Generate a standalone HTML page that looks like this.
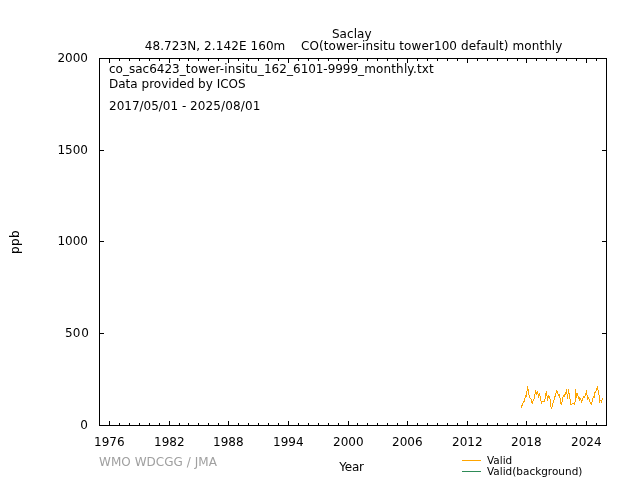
<!DOCTYPE html>
<html lang="en">
<head>
<meta charset="utf-8">
<title>Saclay CO monthly</title>
<style>
html,body{margin:0;padding:0;background:#fff;}
body{width:640px;height:480px;position:relative;overflow:hidden;font-family:"DejaVu Sans","Liberation Sans",sans-serif;font-size:12px;line-height:14px;color:#000;}
.r{position:absolute;}
.t{position:absolute;white-space:nowrap;height:14px;}
.tl{transform:translate(0,-50%);}
.tc{transform:translate(-50%,-50%);}
.tr{transform:translate(-100%,-50%);}
svg{position:absolute;left:0;top:0;}
</style>
</head>
<body>
<div class="r" style="left:99px;top:58px;width:508px;height:1px;background:#000"></div>
<div class="r" style="left:99px;top:425px;width:508px;height:1px;background:#000"></div>
<div class="r" style="left:99px;top:58px;width:1px;height:368px;background:#000"></div>
<div class="r" style="left:606px;top:58px;width:1px;height:368px;background:#000"></div>
<div class="r" style="left:109px;top:59px;width:1px;height:4px;background:#000"></div>
<div class="r" style="left:109px;top:421px;width:1px;height:4px;background:#000"></div>
<div class="r" style="left:119px;top:59px;width:1px;height:2px;background:#000"></div>
<div class="r" style="left:119px;top:423px;width:1px;height:2px;background:#000"></div>
<div class="r" style="left:129px;top:59px;width:1px;height:2px;background:#000"></div>
<div class="r" style="left:129px;top:423px;width:1px;height:2px;background:#000"></div>
<div class="r" style="left:139px;top:59px;width:1px;height:2px;background:#000"></div>
<div class="r" style="left:139px;top:423px;width:1px;height:2px;background:#000"></div>
<div class="r" style="left:149px;top:59px;width:1px;height:2px;background:#000"></div>
<div class="r" style="left:149px;top:423px;width:1px;height:2px;background:#000"></div>
<div class="r" style="left:159px;top:59px;width:1px;height:2px;background:#000"></div>
<div class="r" style="left:159px;top:423px;width:1px;height:2px;background:#000"></div>
<div class="r" style="left:169px;top:59px;width:1px;height:4px;background:#000"></div>
<div class="r" style="left:169px;top:421px;width:1px;height:4px;background:#000"></div>
<div class="r" style="left:179px;top:59px;width:1px;height:2px;background:#000"></div>
<div class="r" style="left:179px;top:423px;width:1px;height:2px;background:#000"></div>
<div class="r" style="left:188px;top:59px;width:1px;height:2px;background:#000"></div>
<div class="r" style="left:188px;top:423px;width:1px;height:2px;background:#000"></div>
<div class="r" style="left:198px;top:59px;width:1px;height:2px;background:#000"></div>
<div class="r" style="left:198px;top:423px;width:1px;height:2px;background:#000"></div>
<div class="r" style="left:208px;top:59px;width:1px;height:2px;background:#000"></div>
<div class="r" style="left:208px;top:423px;width:1px;height:2px;background:#000"></div>
<div class="r" style="left:218px;top:59px;width:1px;height:2px;background:#000"></div>
<div class="r" style="left:218px;top:423px;width:1px;height:2px;background:#000"></div>
<div class="r" style="left:228px;top:59px;width:1px;height:4px;background:#000"></div>
<div class="r" style="left:228px;top:421px;width:1px;height:4px;background:#000"></div>
<div class="r" style="left:238px;top:59px;width:1px;height:2px;background:#000"></div>
<div class="r" style="left:238px;top:423px;width:1px;height:2px;background:#000"></div>
<div class="r" style="left:248px;top:59px;width:1px;height:2px;background:#000"></div>
<div class="r" style="left:248px;top:423px;width:1px;height:2px;background:#000"></div>
<div class="r" style="left:258px;top:59px;width:1px;height:2px;background:#000"></div>
<div class="r" style="left:258px;top:423px;width:1px;height:2px;background:#000"></div>
<div class="r" style="left:268px;top:59px;width:1px;height:2px;background:#000"></div>
<div class="r" style="left:268px;top:423px;width:1px;height:2px;background:#000"></div>
<div class="r" style="left:278px;top:59px;width:1px;height:2px;background:#000"></div>
<div class="r" style="left:278px;top:423px;width:1px;height:2px;background:#000"></div>
<div class="r" style="left:288px;top:59px;width:1px;height:4px;background:#000"></div>
<div class="r" style="left:288px;top:421px;width:1px;height:4px;background:#000"></div>
<div class="r" style="left:298px;top:59px;width:1px;height:2px;background:#000"></div>
<div class="r" style="left:298px;top:423px;width:1px;height:2px;background:#000"></div>
<div class="r" style="left:308px;top:59px;width:1px;height:2px;background:#000"></div>
<div class="r" style="left:308px;top:423px;width:1px;height:2px;background:#000"></div>
<div class="r" style="left:318px;top:59px;width:1px;height:2px;background:#000"></div>
<div class="r" style="left:318px;top:423px;width:1px;height:2px;background:#000"></div>
<div class="r" style="left:328px;top:59px;width:1px;height:2px;background:#000"></div>
<div class="r" style="left:328px;top:423px;width:1px;height:2px;background:#000"></div>
<div class="r" style="left:338px;top:59px;width:1px;height:2px;background:#000"></div>
<div class="r" style="left:338px;top:423px;width:1px;height:2px;background:#000"></div>
<div class="r" style="left:348px;top:59px;width:1px;height:4px;background:#000"></div>
<div class="r" style="left:348px;top:421px;width:1px;height:4px;background:#000"></div>
<div class="r" style="left:357px;top:59px;width:1px;height:2px;background:#000"></div>
<div class="r" style="left:357px;top:423px;width:1px;height:2px;background:#000"></div>
<div class="r" style="left:367px;top:59px;width:1px;height:2px;background:#000"></div>
<div class="r" style="left:367px;top:423px;width:1px;height:2px;background:#000"></div>
<div class="r" style="left:377px;top:59px;width:1px;height:2px;background:#000"></div>
<div class="r" style="left:377px;top:423px;width:1px;height:2px;background:#000"></div>
<div class="r" style="left:387px;top:59px;width:1px;height:2px;background:#000"></div>
<div class="r" style="left:387px;top:423px;width:1px;height:2px;background:#000"></div>
<div class="r" style="left:397px;top:59px;width:1px;height:2px;background:#000"></div>
<div class="r" style="left:397px;top:423px;width:1px;height:2px;background:#000"></div>
<div class="r" style="left:407px;top:59px;width:1px;height:4px;background:#000"></div>
<div class="r" style="left:407px;top:421px;width:1px;height:4px;background:#000"></div>
<div class="r" style="left:417px;top:59px;width:1px;height:2px;background:#000"></div>
<div class="r" style="left:417px;top:423px;width:1px;height:2px;background:#000"></div>
<div class="r" style="left:427px;top:59px;width:1px;height:2px;background:#000"></div>
<div class="r" style="left:427px;top:423px;width:1px;height:2px;background:#000"></div>
<div class="r" style="left:437px;top:59px;width:1px;height:2px;background:#000"></div>
<div class="r" style="left:437px;top:423px;width:1px;height:2px;background:#000"></div>
<div class="r" style="left:447px;top:59px;width:1px;height:2px;background:#000"></div>
<div class="r" style="left:447px;top:423px;width:1px;height:2px;background:#000"></div>
<div class="r" style="left:457px;top:59px;width:1px;height:2px;background:#000"></div>
<div class="r" style="left:457px;top:423px;width:1px;height:2px;background:#000"></div>
<div class="r" style="left:467px;top:59px;width:1px;height:4px;background:#000"></div>
<div class="r" style="left:467px;top:421px;width:1px;height:4px;background:#000"></div>
<div class="r" style="left:477px;top:59px;width:1px;height:2px;background:#000"></div>
<div class="r" style="left:477px;top:423px;width:1px;height:2px;background:#000"></div>
<div class="r" style="left:487px;top:59px;width:1px;height:2px;background:#000"></div>
<div class="r" style="left:487px;top:423px;width:1px;height:2px;background:#000"></div>
<div class="r" style="left:497px;top:59px;width:1px;height:2px;background:#000"></div>
<div class="r" style="left:497px;top:423px;width:1px;height:2px;background:#000"></div>
<div class="r" style="left:507px;top:59px;width:1px;height:2px;background:#000"></div>
<div class="r" style="left:507px;top:423px;width:1px;height:2px;background:#000"></div>
<div class="r" style="left:517px;top:59px;width:1px;height:2px;background:#000"></div>
<div class="r" style="left:517px;top:423px;width:1px;height:2px;background:#000"></div>
<div class="r" style="left:526px;top:59px;width:1px;height:4px;background:#000"></div>
<div class="r" style="left:526px;top:421px;width:1px;height:4px;background:#000"></div>
<div class="r" style="left:536px;top:59px;width:1px;height:2px;background:#000"></div>
<div class="r" style="left:536px;top:423px;width:1px;height:2px;background:#000"></div>
<div class="r" style="left:546px;top:59px;width:1px;height:2px;background:#000"></div>
<div class="r" style="left:546px;top:423px;width:1px;height:2px;background:#000"></div>
<div class="r" style="left:556px;top:59px;width:1px;height:2px;background:#000"></div>
<div class="r" style="left:556px;top:423px;width:1px;height:2px;background:#000"></div>
<div class="r" style="left:566px;top:59px;width:1px;height:2px;background:#000"></div>
<div class="r" style="left:566px;top:423px;width:1px;height:2px;background:#000"></div>
<div class="r" style="left:576px;top:59px;width:1px;height:2px;background:#000"></div>
<div class="r" style="left:576px;top:423px;width:1px;height:2px;background:#000"></div>
<div class="r" style="left:586px;top:59px;width:1px;height:4px;background:#000"></div>
<div class="r" style="left:586px;top:421px;width:1px;height:4px;background:#000"></div>
<div class="r" style="left:596px;top:59px;width:1px;height:2px;background:#000"></div>
<div class="r" style="left:596px;top:423px;width:1px;height:2px;background:#000"></div>
<div class="r" style="left:100px;top:333px;width:4px;height:1px;background:#000"></div>
<div class="r" style="left:602px;top:333px;width:4px;height:1px;background:#000"></div>
<div class="r" style="left:100px;top:241px;width:4px;height:1px;background:#000"></div>
<div class="r" style="left:602px;top:241px;width:4px;height:1px;background:#000"></div>
<div class="r" style="left:100px;top:150px;width:4px;height:1px;background:#000"></div>
<div class="r" style="left:602px;top:150px;width:4px;height:1px;background:#000"></div>
<div class="t tc" style="left:351.8px;top:34px;color:#000;letter-spacing:0.08px;">Saclay</div>
<div class="t tc" style="left:353.6px;top:46px;color:#000;letter-spacing:0.0875px;">48.723N, 2.142E 160m&nbsp;&nbsp;&nbsp; CO(tower-insitu tower100 default) monthly</div>
<div class="t tr" style="left:88px;top:425px;color:#000;">0</div>
<div class="t tr" style="left:89px;top:333px;color:#000;">50<span style="margin-left:1px">0</span></div>
<div class="t tr" style="left:88px;top:241px;color:#000;">1000</div>
<div class="t tr" style="left:88px;top:150px;color:#000;">1500</div>
<div class="t tr" style="left:88px;top:58px;color:#000;">2000</div>
<div class="t tc" style="left:109.28px;top:442px;color:#000;">1976</div>
<div class="t tc" style="left:169.28px;top:442px;color:#000;">1982</div>
<div class="t tc" style="left:228.28px;top:442px;color:#000;">1988</div>
<div class="t tc" style="left:288.28px;top:442px;color:#000;">1994</div>
<div class="t tc" style="left:348.28px;top:442px;color:#000;">2000</div>
<div class="t tc" style="left:407.28px;top:442px;color:#000;">2006</div>
<div class="t tc" style="left:467.28px;top:442px;color:#000;">2012</div>
<div class="t tc" style="left:526.28px;top:442px;color:#000;">2018</div>
<div class="t tc" style="left:586.28px;top:442px;color:#000;">2024</div>
<div class="t tc" style="left:351.5px;top:467px;color:#000;letter-spacing:-0.25px;">Year</div>
<div class="t tl" style="left:99px;top:462px;color:#a0a0a0;letter-spacing:0.045px;">WMO WDCGG / JMA</div>
<div class="t tl" style="left:109px;top:69px;color:#000;"><span style="letter-spacing:0.005px">co_sac6423</span><span style="letter-spacing:0.115px">_tower-insitu</span><span style="letter-spacing:0.065px">_162_</span><span style="letter-spacing:-0.055px">6101-9999</span><span style="letter-spacing:0.16px">_monthly.txt</span></div>
<div class="t tl" style="left:109px;top:84px;color:#000;letter-spacing:0.01px;">Data provided by ICOS</div>
<div class="t tl" style="left:109px;top:106px;color:#000;"><span style="letter-spacing:-0.005px">2017/05/01 - </span><span style="letter-spacing:0.12px">2025/08/01</span></div>
<div class="t tl" style="left:487px;top:460px;color:#000;font-size:10.45px;letter-spacing:0.02px;">Valid</div>
<div class="t tl" style="left:487px;top:471px;color:#000;font-size:10.45px;letter-spacing:0.02px;">Valid(background)</div>
<div class="t" style="left:15px;top:241.8px;letter-spacing:0.4px;transform:translate(-50%,-50%) rotate(-90deg);">ppb</div>
<div class="r" style="left:462px;top:460px;width:19px;height:1px;background:#ffa500"></div>
<div class="r" style="left:462px;top:471px;width:19px;height:1px;background:#2e8b57"></div>
<svg width="640" height="480" viewBox="0 0 640 480" shape-rendering="crispEdges"><path d="M521.5 405V408 M522.5 403V406 M523.5 401V403 M524.5 398V402 M525.5 395V398 M526.5 391V397 M527.5 386V391 M528.5 389V395 M529.5 395V398 M530.5 398V399 M531.5 399V403 M532.5 401V404 M533.5 399V401 M534.5 394V399 M535.5 390V394 M536.5 392V395 M537.5 391V394 M538.5 394V398 M539.5 393V396 M540.5 396V401 M541.5 401V404 M542.5 401V402 M543.5 401V402 M544.5 399V402 M545.5 393V399 M546.5 391V396 M547.5 396V401 M548.5 395V398 M549.5 396V399 M550.5 399V407 M551.5 407V409 M552.5 403V407 M553.5 400V403 M554.5 396V400 M555.5 393V397 M556.5 390V393 M557.5 391V394 M558.5 394V396 M559.5 394V398 M560.5 398V404 M561.5 402V405 M562.5 397V402 M563.5 395V397 M564.5 394V397 M565.5 392V395 M566.5 389V394 M567.5 394V399 M568.5 389V394 M569.5 393V399 M570.5 399V405 M571.5 404V405 M572.5 403V404 M573.5 403V404 M574.5 402V405 M575.5 389V402 M576.5 393V398 M577.5 393V396 M578.5 396V399 M579.5 397V401 M580.5 398V400 M581.5 400V403 M582.5 398V401 M583.5 396V398 M584.5 396V398 M585.5 393V396 M586.5 390V395 M587.5 395V400 M588.5 397V399 M589.5 399V402 M590.5 402V404 M591.5 402V405 M592.5 398V402 M593.5 396V398 M594.5 392V398 M595.5 391V393 M596.5 388V391 M597.5 386V390 M598.5 390V395 M599.5 395V403 M600.5 400V401 M601.5 400V403 M602.5 398V400" stroke="#ffa500" stroke-width="1" fill="none"/></svg>
</body>
</html>
